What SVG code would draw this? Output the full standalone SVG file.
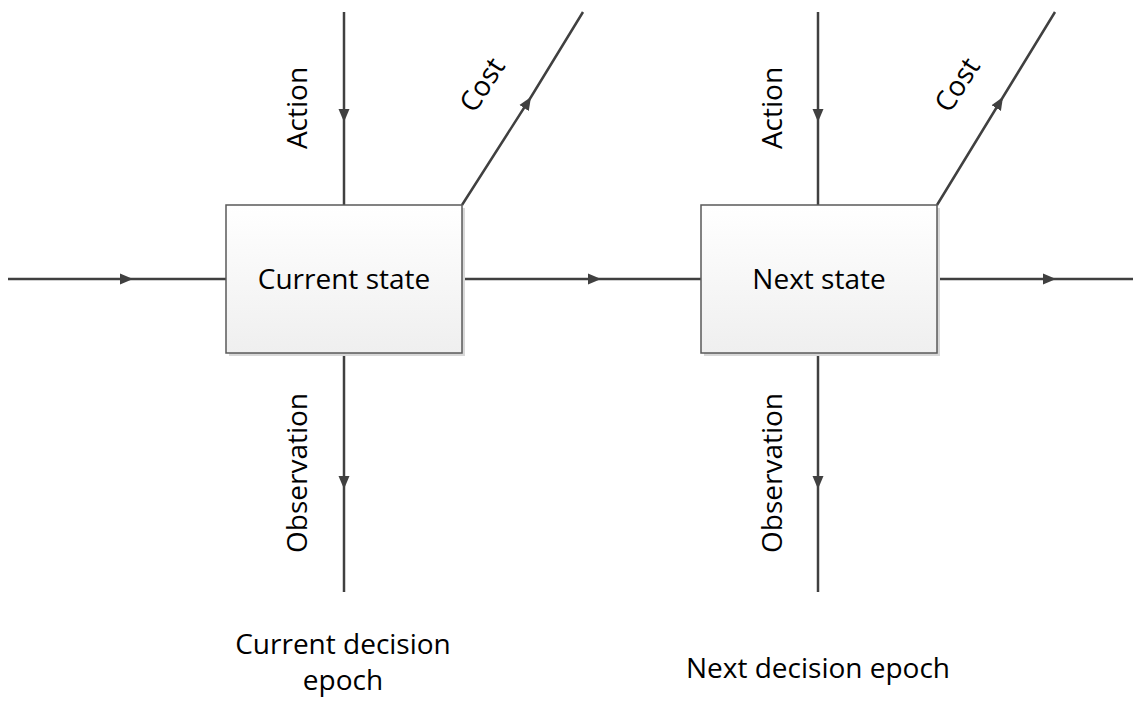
<svg xmlns="http://www.w3.org/2000/svg" width="1139" height="707" viewBox="0 0 1139 707">
  <style>
    .lbl { font-family: "Open Sans", "Noto Sans", sans-serif; font-size: 28px; fill: #000; }
    .box { fill: url(#boxFill); stroke: #5a5a5a; stroke-width: 1.5; }
    .shadow { fill: #d8d8d8; }
    .wire { fill: none; stroke: #404040; stroke-width: 2.5; marker-mid: url(#arrow); }
  </style>
  <defs>
    <linearGradient id="boxFill" x1="0" y1="0" x2="0" y2="1">
      <stop offset="0" stop-color="#ffffff"/>
      <stop offset="1" stop-color="#efefef"/>
    </linearGradient>
    <marker id="arrow" markerUnits="userSpaceOnUse" markerWidth="14" markerHeight="12" refX="13" refY="6" orient="auto">
      <path d="M0,0.5 L13,6 L0,11.5 Z" fill="#404040"/>
    </marker>
  </defs>

  <!-- connectors -->
  <g id="connectors">
    <path class="wire" d="M8,279 L133,279 L226,279"/>
    <path class="wire" d="M462,279 L601,279 L701,279"/>
    <path class="wire" d="M937,279 L1056,279 L1133,279"/>
    <path class="wire" d="M344,12 L344,122 L344,205"/>
    <path class="wire" d="M818,12 L818,122 L818,205"/>
    <path class="wire" d="M344,353 L344,489 L344,592"/>
    <path class="wire" d="M818,353 L818,489 L818,592"/>
    <path class="wire" d="M462,205 L531,97 L583,12"/>
    <path class="wire" d="M937,205 L1003,97 L1055,12"/>
  </g>

  <!-- states -->
  <g id="current-state">
    <rect class="shadow" x="229" y="208" width="236" height="148"/>
    <rect class="box" x="226" y="205" width="236" height="148"/>
    <text class="lbl" x="344" y="289" text-anchor="middle">Current state</text>
  </g>
  <g id="next-state">
    <rect class="shadow" x="704" y="208" width="236" height="148"/>
    <rect class="box" x="701" y="205" width="236" height="148"/>
    <text class="lbl" x="819" y="289" text-anchor="middle">Next state</text>
  </g>

  <!-- edge labels -->
  <g id="labels-current">
    <text class="lbl" transform="translate(307,108) rotate(-90)" text-anchor="middle">Action</text>
    <text class="lbl" transform="translate(307,473) rotate(-90)" text-anchor="middle">Observation</text>
    <text class="lbl" transform="translate(481,84) rotate(-57)" text-anchor="middle" dominant-baseline="central">Cost</text>
  </g>
  <g id="labels-next">
    <text class="lbl" transform="translate(782,108) rotate(-90)" text-anchor="middle">Action</text>
    <text class="lbl" transform="translate(782,473) rotate(-90)" text-anchor="middle">Observation</text>
    <text class="lbl" transform="translate(956,84) rotate(-57)" text-anchor="middle" dominant-baseline="central">Cost</text>
  </g>

  <!-- epoch captions -->
  <g id="epoch-current">
    <text class="lbl" x="343" y="654" text-anchor="middle">Current decision</text>
    <text class="lbl" x="343" y="690" text-anchor="middle">epoch</text>
  </g>
  <g id="epoch-next">
    <text class="lbl" x="818" y="678" text-anchor="middle">Next decision epoch</text>
  </g>
</svg>
